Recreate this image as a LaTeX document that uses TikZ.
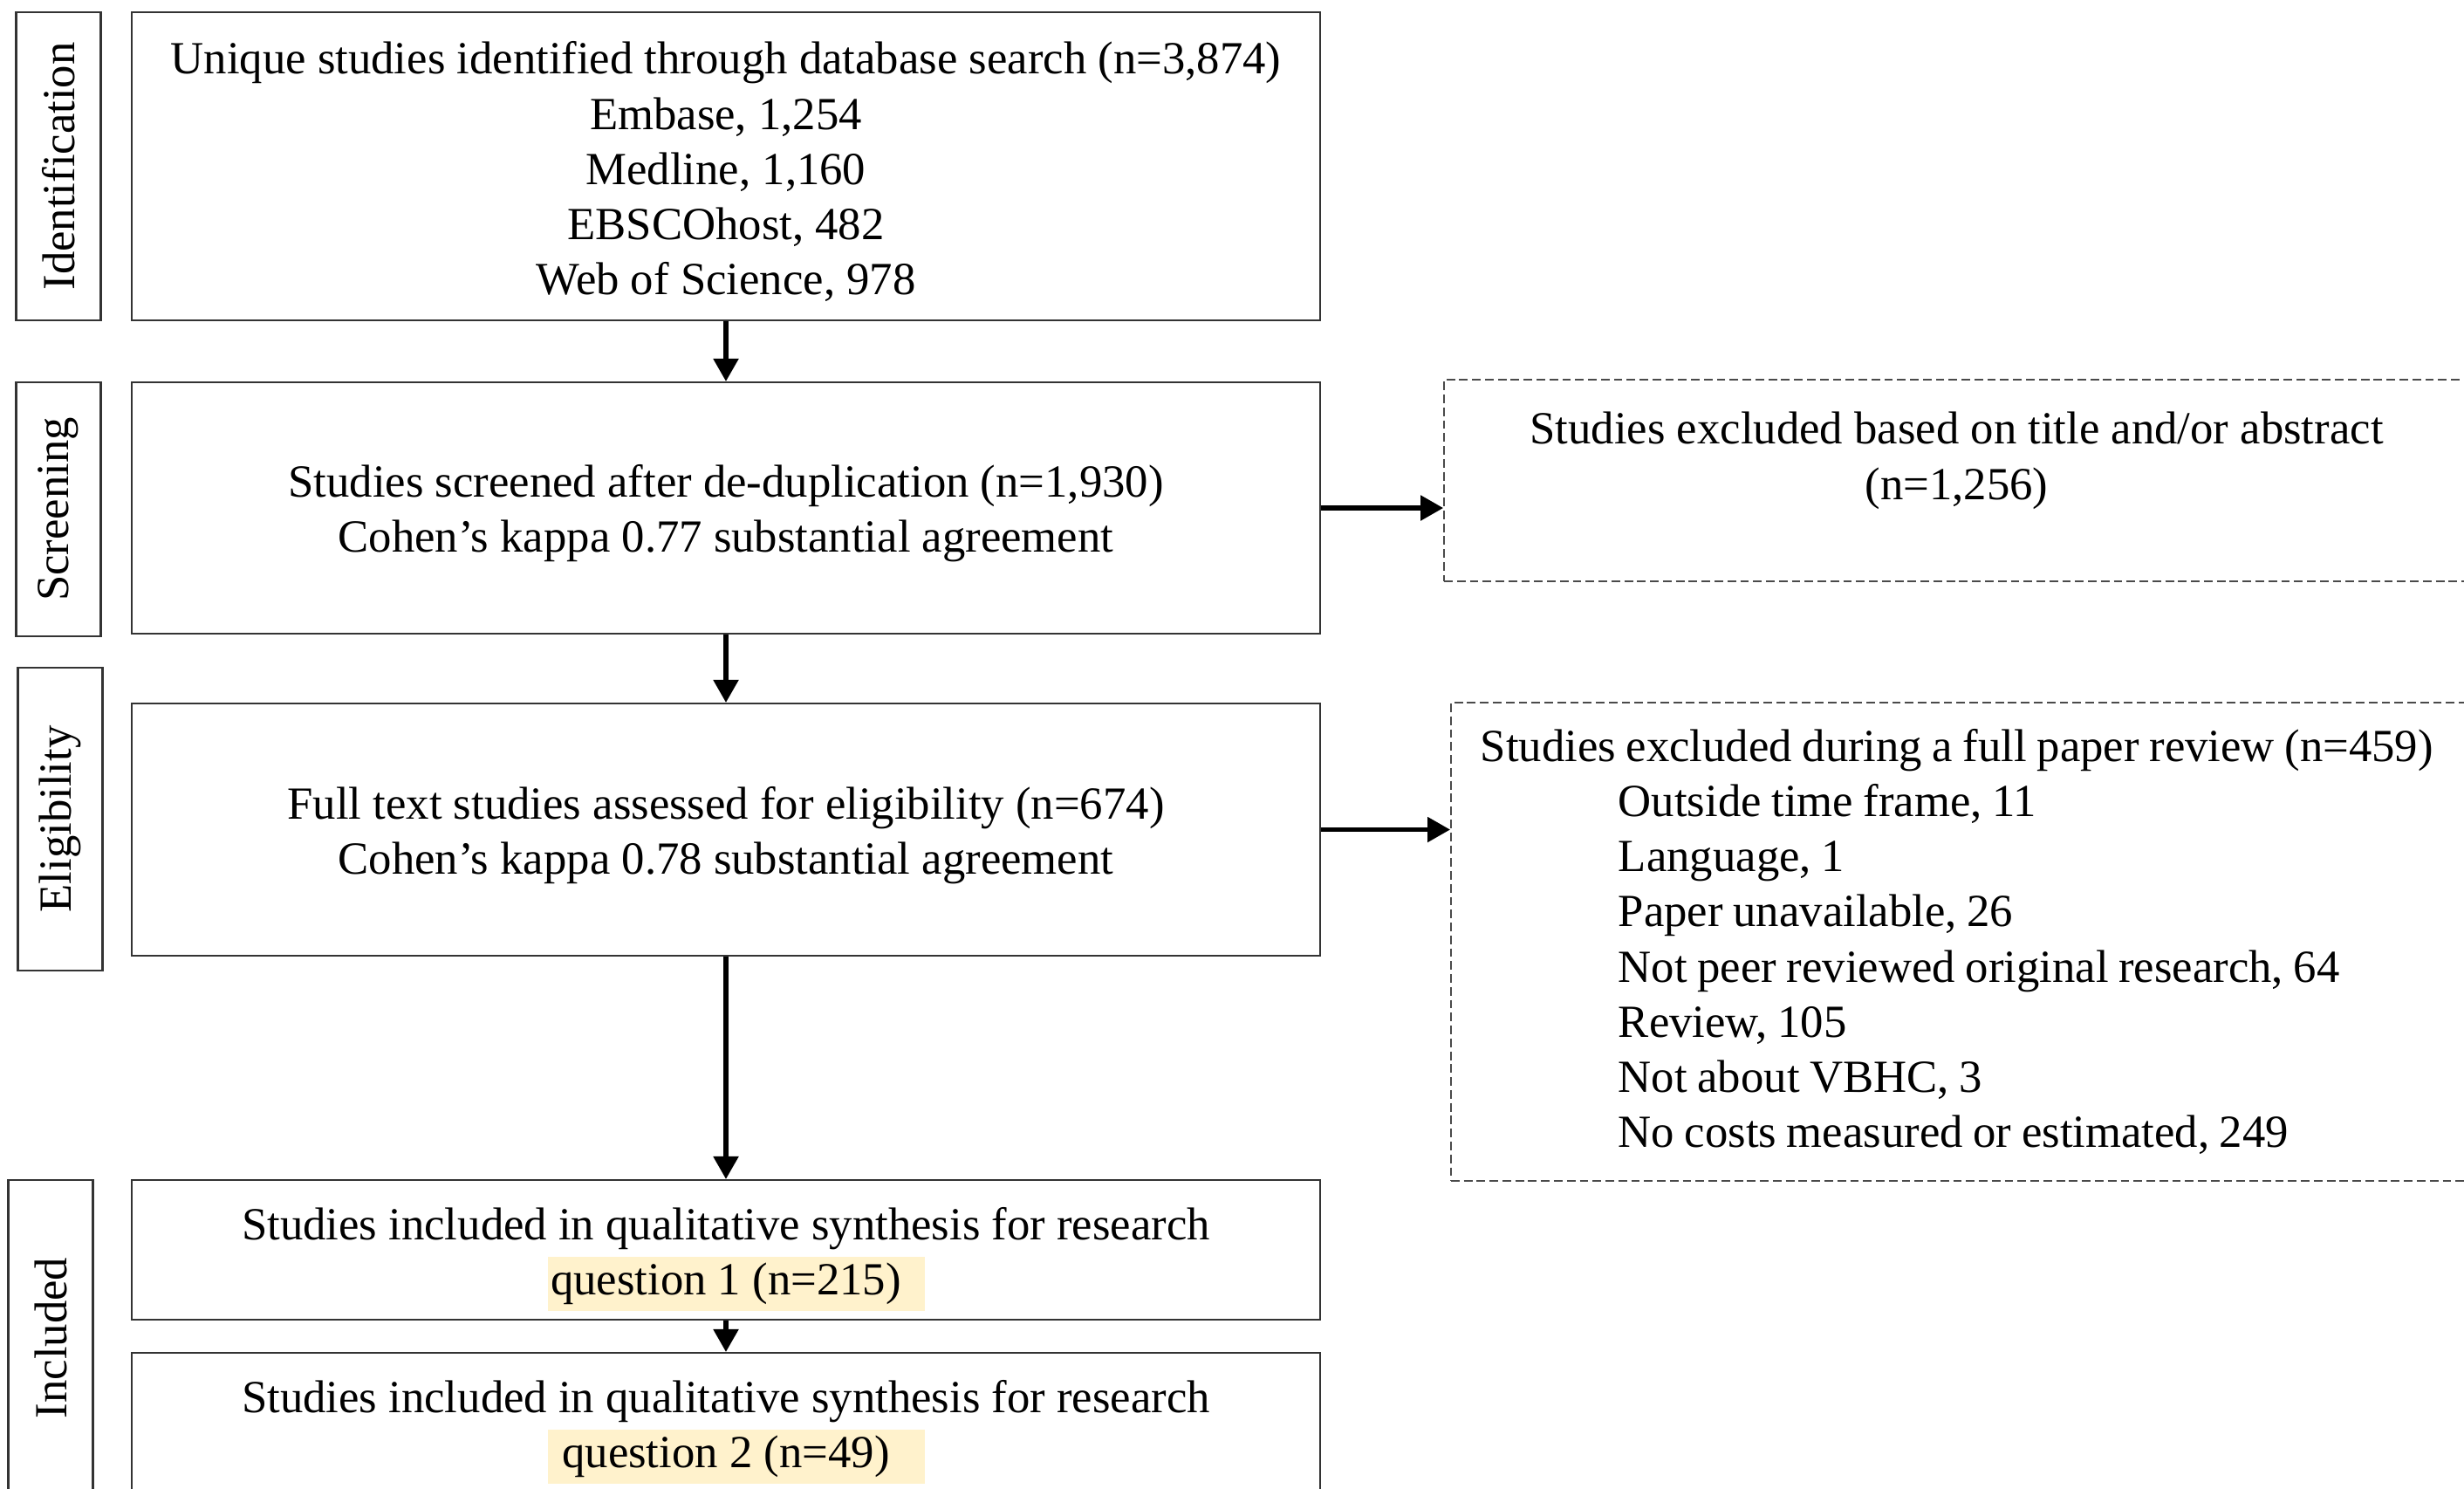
\documentclass[tikz,border=0pt]{standalone}
\usepackage{fontspec}
\setmainfont{Liberation Serif}
\usepackage{xcolor}
\usetikzlibrary{positioning, arrows.meta}
\definecolor{boxK}{HTML}{333333}
\definecolor{dashK}{HTML}{4A4A4A}
\definecolor{hlY}{HTML}{FFF2CC}
% highlighted line: fixed-width marker, text centred on the box
\newcommand{\hlq}[1]{\makebox[0pt]{\hspace{0.234cm}{\setlength{\fboxsep}{2pt}%
  \colorbox{hlY}{\makebox[4.18cm]{\vphantom{(}}}}}\makebox[0pt]{#1}}
\newcommand{\ind}{\hspace*{1.58cm}}
\newcommand{\tg}[1]{\rule{0pt}{#1}}

\begin{document}
\begin{tikzpicture}[font=\fontsize{15}{18}\selectfont,
  stagebox/.style={draw=boxK, line width=0.6pt, rotate=90, minimum height=0.97cm,
                   inner sep=0pt},
  flowbox/.style={draw=boxK, line width=0.6pt, minimum width=13.62cm, align=center,
                  inner sep=0pt},
  exclbox/.style={draw=dashK, line width=0.5pt, dash pattern=on 2.8pt off 1.4pt},
  flow/.style={-{Triangle[length=0.26cm, width=0.28cm]}, line width=1.5pt}]
  \useasboundingbox (0,0) rectangle (28.24,-17.05);
  \clip (0,0) rectangle (28.24,-17.05);
  % stage labels: name, x, y, length, text
  \foreach \nm/\x/\y/\h/\lab in {%
    lidf/0.67/-1.905/3.53/Identification,%
    lscr/0.67/-5.835/2.91/Screening,%
    lelg/0.69/-9.385/3.47/Eligibility,%
    linc/0.58/-15.33/3.62/Included}{%
      \node[stagebox, minimum width=\h cm] (\nm) at (\x,\y) {\lab};
  }
  % main flow
  \node[flowbox, minimum height=3.53cm] (idf) at (8.32,-1.905)
    {\tg{0.5cm}Unique studies identified through database search (n=3,874)\\
     Embase, 1,254\\ Medline, 1,160\\ EBSCOhost, 482\\ Web of Science, 978};
  \node[flowbox, minimum height=2.88cm] (scr) at (8.32,-5.82)
    {\tg{0.5cm}Studies screened after de-duplication (n=1,930)\\
     Cohen’s kappa 0.77 substantial agreement};
  \node[flowbox, minimum height=2.89cm] (elg) at (8.32,-9.505)
    {\tg{0.5cm}Full text studies assessed for eligibility (n=674)\\
     Cohen’s kappa 0.78 substantial agreement};
  \node[flowbox, minimum height=1.60cm] (incA) at (8.32,-14.32)
    {\tg{0.58cm}Studies included in qualitative synthesis for research\\ \hlq{question 1 (n=215)}};
  \node[flowbox, minimum height=1.62cm] (incB) at (8.32,-16.31)
    {\tg{0.56cm}Studies included in qualitative synthesis for research\\ \hlq{question 2 (n=49)}};
  % exclusions
  \node[exclbox, minimum width=11.75cm, minimum height=2.25cm, align=center]
    (exA) at (22.425,-5.505)
    {\tg{0.62cm}Studies excluded based on title and/or abstract\\ (n=1,256)\\ \strut};
  \node[exclbox, minimum height=5.48cm, text width=12cm, inner xsep=0.34cm,
        inner ysep=0.1cm, align=left, anchor=west] (exB) at (16.62,-10.79)
    {\spaceskip=0.88\fontdimen2\font
     Studies excluded during a full paper review (n=459)\\
     \ind Outside time frame, 11\\
     \ind Language, 1\\
     \ind Paper unavailable, 26\\
     \ind Not peer reviewed original research, 64\\
     \ind Review, 105\\
     \ind Not about VBHC, 3\\
     \ind No costs measured or estimated, 249};
  % arrows
  \draw[flow] (idf) -- (scr);
  \draw[flow] (scr) -- (elg);
  \draw[flow] (elg) -- (incA);
  \draw[flow] (incA) -- (incB);
  \draw[flow] (scr.east) -- (scr.east -| exA.west);
  \draw[flow] (elg.east) -- (elg.east -| exB.west);
\end{tikzpicture}
\end{document}
